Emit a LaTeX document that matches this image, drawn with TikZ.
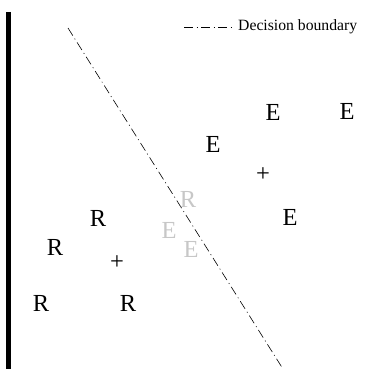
\documentclass[tikz,border=0pt]{standalone}
\usepackage{fontspec}
\setmainfont{Liberation Serif}
\usepackage{tikz}
\definecolor{outlier}{gray}{0.78}

\begin{document}
\begin{tikzpicture}[x=1pt,y=-1pt,
  pt/.style={inner sep=0pt,font=\fontsize{24.5}{25}\selectfont},
  gpt/.style={pt,text=outlier},
  boundary/.style={line width=0.6pt,dash pattern=on 9pt off 3.5pt on 1pt off 3.5pt}]
\useasboundingbox (0,0) rectangle (367,369);
\draw[line width=4.5pt] (8.5,12) -- (8.5,369);
% decision boundary
\coordinate (b1) at (68,28);
\coordinate (b2) at (283,369);
\draw[boundary] (b1) -- (b2);
% legend
\coordinate (l1) at (184,27);
\coordinate (l2) at (231,27);
\draw[boundary] (l1) -- (l2);
\node[anchor=west,inner sep=0pt,font=\fontsize{15.7}{16}\selectfont] (legend) at (238,27) {Decision boundary};
% class E
\node[pt] (e1) at (273,112) {E};
\node[pt] (e2) at (347,111) {E};
\node[pt] (e3) at (213,144) {E};
\node[pt] (e4) at (290,217) {E};
\node[pt] (me) at (263,175) {+};
% class R
\node[pt] (r1) at (98,218) {R};
\node[pt] (r2) at (55,247) {R};
\node[pt] (r3) at (41,303) {R};
\node[pt] (r4) at (128,303) {R};
\node[pt] (mr) at (117,263) {+};
% near the boundary
\node[gpt] (g1) at (188,199) {R};
\node[gpt] (g2) at (169,230) {E};
\node[gpt] (g3) at (191,249) {E};
\end{tikzpicture}
\end{document}
